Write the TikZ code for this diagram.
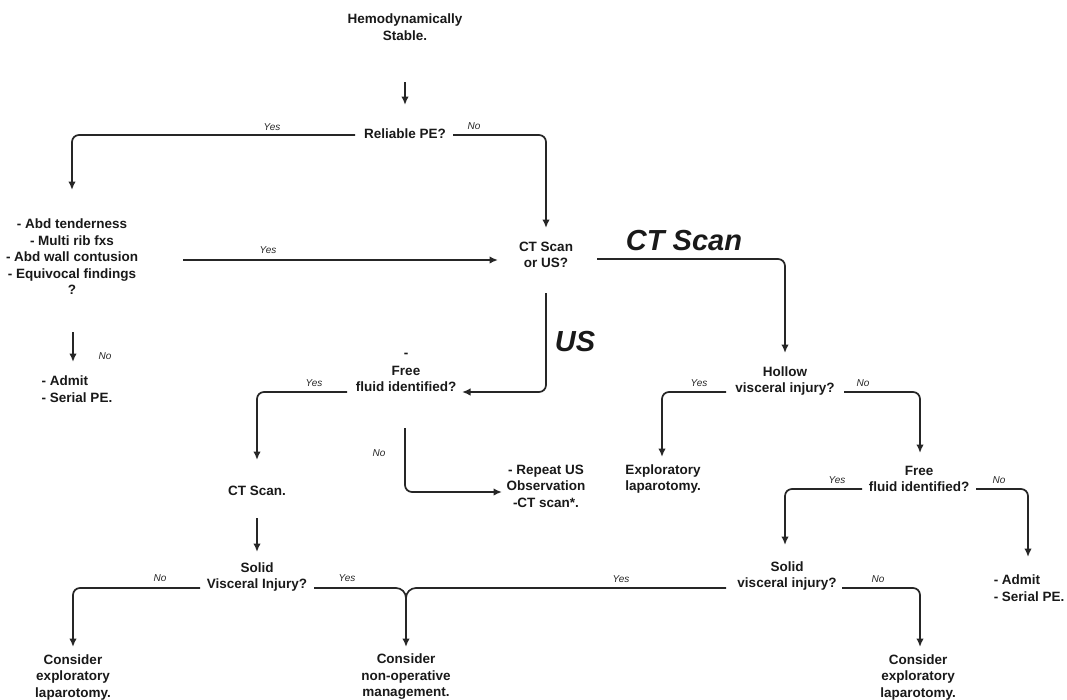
\documentclass[tikz,border=0pt]{standalone}
\usepackage{fontspec}
\setmainfont{Liberation Sans}
\usetikzlibrary{arrows.meta}
\begin{document}
\begin{tikzpicture}[x=1pt,y=1pt,
  txt/.style={font=\fontsize{13.5}{16.5}\selectfont\bfseries, align=center, inner sep=0pt, text=black!90},
  lbl/.style={font=\fontsize{10}{12}\selectfont\itshape, inner sep=0pt, text=black!85},
  big/.style={font=\fontsize{29}{32}\selectfont\bfseries\itshape, inner sep=0pt, text=black!90},
  arr/.style={draw=black!85, line width=1.7pt, rounded corners=7pt, -{Latex[length=8.5pt,width=7.5pt]}},
  ln/.style={draw=black!85, line width=1.7pt, rounded corners=7pt}]
\useasboundingbox (0,0) rectangle (1067,-699);
% nodes
\node[txt] (hemo) at (405,-27) {Hemodynamically\\Stable.};
\node[txt] (rpe) at (405,-134) {Reliable PE?};
\node[txt] (abd) at (72,-257) {- Abd tenderness\\- Multi rib fxs\\- Abd wall contusion\\- Equivocal findings\\?};
\node[txt, align=left] (admitL) at (77,-389) {- Admit\\- Serial PE.};
\node[txt] (ctus) at (546,-255) {CT Scan\\or US?};
\node[big] (ctbig) at (684,-241) {CT Scan};
\node[big] (usbig) at (575,-342) {US};
\node[txt] (dash) at (406,-355) {-};
\node[txt] (fful) at (406,-379) {Free\\fluid identified?};
\node[txt] (cts) at (257,-491) {CT Scan.};
\node[txt] (repeat) at (546,-486) {- Repeat US\\Observation\\-CT scan*.};
\node[txt] (solL) at (257,-577) {Solid\\Visceral Injury?};
\node[txt] (consL) at (73,-677) {Consider\\exploratory\\laparotomy.};
\node[txt] (consM) at (406,-677) {Consider\\non-operative\\management.};
\node[txt] (hollow) at (785,-381) {Hollow\\visceral injury?};
\node[txt] (expl) at (663,-479) {Exploratory\\laparotomy.};
\node[txt] (ffr) at (919,-479) {Free\\fluid identified?};
\node[txt, align=left] (admr) at (1029,-588) {- Admit\\- Serial PE.};
\node[txt] (solr) at (787,-576) {Solid\\visceral injury?};
\node[txt] (consr) at (918,-677) {Consider\\exploratory\\laparotomy.};
% labels
\node[lbl] (l1) at (272,-127) {Yes};
\node[lbl] (l2) at (474,-126) {No};
\node[lbl] (l3) at (268,-250) {Yes};
\node[lbl] (l4) at (105,-356) {No};
\node[lbl] (l5) at (314,-383) {Yes};
\node[lbl] (l6) at (379,-453) {No};
\node[lbl] (l7) at (160,-578) {No};
\node[lbl] (l8) at (347,-578) {Yes};
\node[lbl] (l9) at (699,-383) {Yes};
\node[lbl] (l10) at (863,-383) {No};
\node[lbl] (l11) at (837,-480) {Yes};
\node[lbl] (l12) at (999,-480) {No};
\node[lbl] (l13) at (621,-579) {Yes};
\node[lbl] (l14) at (878,-579) {No};
% connectors
\draw[arr] ([shift={(0,-55)}]hemo.center) -- ([shift={(0,29)}]rpe.center);
\draw[arr] ([shift={(-50,-1)}]rpe.center) -| ([shift={(0,67)}]abd.center);
\draw[arr] ([shift={(48,-1)}]rpe.center) -| ([shift={(0,27)}]ctus.center);
\draw[arr] ([shift={(111,-3)}]abd.center) -- ([shift={(-48,-5)}]ctus.center);
\draw[arr] ([shift={(1,-75)}]abd.center) -- ([shift={(-4,27)}]admitL.center);
\draw[arr] ([shift={(51,-4)}]ctus.center) -| ([shift={(0,28)}]hollow.center);
\draw[arr] ([shift={(0,-38)}]ctus.center) |- ([shift={(56,-13)}]fful.center);
\draw[arr] ([shift={(-59,-13)}]fful.center) -| ([shift={(0,31)}]cts.center);
\draw[arr] ([shift={(-1,-49)}]fful.center) |- ([shift={(-44,-6)}]repeat.center);
\draw[arr] ([shift={(0,-27)}]cts.center) -- ([shift={(0,25)}]solL.center);
\draw[arr] ([shift={(-57,-11)}]solL.center) -| ([shift={(0,30)}]consL.center);
\draw[arr, rounded corners=0pt] ([shift={(57,-11)}]solL.center) -- ++(82,0) to[out=0,in=90] ++(10,-10) -- ([shift={(0,30)}]consM.center);
\draw[ln, rounded corners=0pt] ([shift={(-61,-12)}]solr.center) -- ++(-310,0) to[out=180,in=90] ++(-10,-10);
\draw[arr] ([shift={(55,-12)}]solr.center) -| ([shift={(2,30)}]consr.center);
\draw[arr] ([shift={(-59,-11)}]hollow.center) -| ([shift={(-1,22)}]expl.center);
\draw[arr] ([shift={(59,-11)}]hollow.center) -| ([shift={(1,26)}]ffr.center);
\draw[arr] ([shift={(-57,-10)}]ffr.center) -| ([shift={(-2,31)}]solr.center);
\draw[arr] ([shift={(57,-10)}]ffr.center) -| ([shift={(-1,31)}]admr.center);
\end{tikzpicture}
\end{document}
